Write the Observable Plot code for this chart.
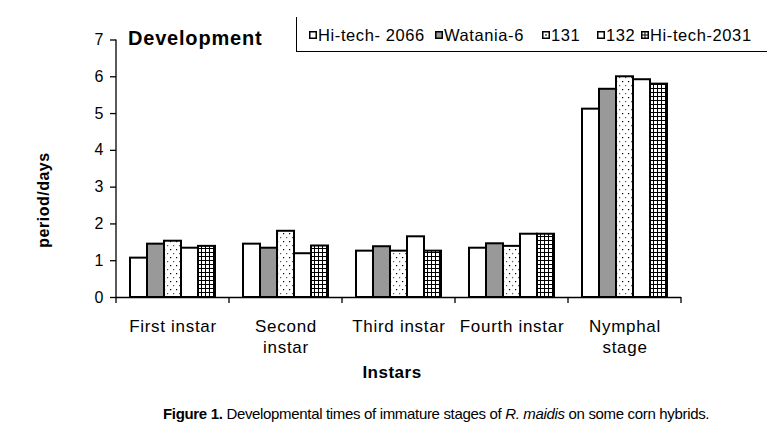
<!DOCTYPE html>
<html>
<head>
<meta charset="utf-8">
<script src="https://cdn.jsdelivr.net/npm/d3@7"></script>
<script src="https://cdn.jsdelivr.net/npm/@observablehq/plot@0.6"></script>
<style>
  html, body { margin: 0; padding: 0; background: #fff; }
  #wrap { position: relative; width: 784px; height: 433px; font-family: "Liberation Sans", Arial, sans-serif; color: #000; }
  #chart svg { display: block; }
  #chart svg g[aria-label="fx-axis tick label"] text { letter-spacing: 0.7px; }
  .ov { position: absolute; white-space: nowrap; }
  #title { left: 128px; top: 26px; font-size: 20px; font-weight: bold; letter-spacing: 0.8px; line-height: 24px; }
  #legend { left: 296px; top: 17px; width: 471px; height: 35px; border-left: 1.3px solid #000; border-bottom: 1.3px solid #000; box-sizing: border-box; }
  #legend .item { position: absolute; top: 8px; font-size: 16.5px; letter-spacing: 0.6px; line-height: 20px; display: flex; align-items: center; }
  #legend .item svg { margin-right: 1px; }
  #ylabel { left: 44px; top: 200px; transform: translate(-50%, -50%) rotate(-90deg); font-size: 16px; font-weight: bold; letter-spacing: 0.5px; }
  #xlabel { left: 392px; top: 373px; transform: translate(-50%, -50%); font-size: 17px; font-weight: bold; letter-spacing: 0.5px; }
  #caption { left: 163px; top: 404px; font-size: 15px; letter-spacing: -0.33px; line-height: 20px; }
</style>
</head>
<body>
<div id="wrap">
  <div id="chart"></div>
  <div id="title" class="ov">Development</div>
  <div id="legend" class="ov"></div>
  <div id="ylabel" class="ov">period/days</div>
  <div id="xlabel" class="ov">Instars</div>
  <div id="caption" class="ov"><b>Figure 1.</b> Developmental times of immature stages of <i>R. maidis</i> on some corn hybrids.</div>
</div>
<script>
// ---- data ----
const categories = ["First instar", "Second instar", "Third instar", "Fourth instar", "Nymphal stage"];
const categoryLabels = ["First instar", "Second\ninstar", "Third instar", "Fourth instar", "Nymphal\nstage"];
const series = ["Hi-tech- 2066", "Watania-6", "131", "132", "Hi-tech-2031"];
const hiTech2066 = [1.07, 1.45, 1.26, 1.34, 5.12];
const watania6   = [1.45, 1.34, 1.38, 1.46, 5.66];
const h131       = [1.53, 1.80, 1.26, 1.39, 6.00];
const h132       = [1.34, 1.19, 1.65, 1.72, 5.92];
const hiTech2031 = [1.39, 1.40, 1.26, 1.72, 5.80];
const yTicks = [0, 1, 2, 3, 4, 5, 6, 7];

const seriesValues = [hiTech2066, watania6, h131, h132, hiTech2031];
const fills = ["#ffffff", "#999999", "url(#pdots)", "#ffffff", "url(#pgrid)"];
const table = [];
categories.forEach((c, i) => series.forEach((s, j) => table.push({category: c, series: s, value: seriesValues[j][i]})));

const plot = Plot.plot({
  width: 784,
  height: 400,
  marginLeft: 115,
  marginRight: 102,
  marginTop: 39.5,
  marginBottom: 103,
  style: {fontFamily: "'Liberation Sans', Arial, sans-serif", background: "#fff", color: "#000"},
  fx: {domain: categories, padding: 0, label: null},
  x: {domain: series, paddingInner: 0, paddingOuter: 0.685, axis: null},
  y: {domain: [0, 7], label: null},
  color: {domain: series, range: fills},
  marks: [
    Plot.barY(table, {fx: "category", x: "series", y: "value", fill: "series", stroke: "#000", strokeWidth: 2}),
    Plot.ruleY([0], {stroke: "#000", strokeWidth: 1.3}),
    Plot.axisY({ticks: yTicks, tickSize: 6, tickPadding: 7, fontSize: 16, strokeWidth: 1.3, label: null, tickFormat: d => String(d)}),
    Plot.axisFx({anchor: "bottom", tickSize: 0, tickPadding: 19, fontSize: 17, lineHeight: 1.25, label: null, tickFormat: d => categoryLabels[categories.indexOf(d)]})
  ]
});
document.getElementById("chart").appendChild(plot);

// patterns
const svg = d3.select(plot);
svg.insert("defs", ":first-child").html(`
  <pattern id="pdots" patternUnits="userSpaceOnUse" width="6" height="8">
    <rect width="6" height="8" fill="#fff"/>
    <rect x="1" y="1" width="1.2" height="1.2" fill="#000"/>
    <rect x="4" y="5" width="1.2" height="1.2" fill="#555"/>
  </pattern>
  <pattern id="pgrid" patternUnits="userSpaceOnUse" width="4" height="4">
    <rect width="4" height="4" fill="#fff"/>
    <path d="M0.5 0V4M0 0.5H4" stroke="#000" stroke-width="1"/>
  </pattern>`);

// axis lines and category boundary ticks, placed from the plot's scales
const fx = plot.scale("fx");
const y = plot.scale("y");
const y0 = y.apply(0);
const yTop = y.apply(yTicks[yTicks.length - 1]);
const edges = categories.map(c => fx.apply(c));
edges.push(fx.apply(categories[categories.length - 1]) + fx.bandwidth);
const g = svg.append("g").attr("stroke", "#000").attr("stroke-width", 1.3);
g.selectAll("line.tk").data(edges).join("line").attr("class", "tk")
  .attr("x1", d => d).attr("x2", d => d).attr("y1", y0).attr("y2", y0 + 6);
g.append("line").attr("x1", edges[0]).attr("x2", edges[0]).attr("y1", yTop).attr("y2", y0);

// legend
const legend = document.getElementById("legend");
const legendX = [12, 138, 245, 300, 344];
const swatch = [
  `<rect x="0.75" y="0.75" width="6.5" height="6.5" fill="#fff" stroke="#000" stroke-width="1.5"/>`,
  `<rect x="0.75" y="0.75" width="6.5" height="6.5" fill="#999" stroke="#000" stroke-width="1.5"/>`,
  `<rect x="0.75" y="0.75" width="6.5" height="6.5" fill="#fff" stroke="#000" stroke-width="1.5"/><rect x="3.3" y="3.3" width="1.4" height="1.4" fill="#000"/>`,
  `<rect x="0.75" y="0.75" width="6.5" height="6.5" fill="#fff" stroke="#000" stroke-width="1.5"/>`,
  `<rect x="0.75" y="0.75" width="6.5" height="6.5" fill="#fff" stroke="#000" stroke-width="1.5"/><path d="M4 0.75V7.25M0.75 4H7.25" stroke="#000" stroke-width="1"/>`
];
series.forEach((s, i) => {
  const d = document.createElement("div");
  d.className = "item";
  d.style.left = legendX[i] + "px";
  d.innerHTML = `<svg width="8" height="8" viewBox="0 0 8 8">${swatch[i]}</svg><span>${s}</span>`;
  legend.appendChild(d);
});
</script>
</body>
</html>
